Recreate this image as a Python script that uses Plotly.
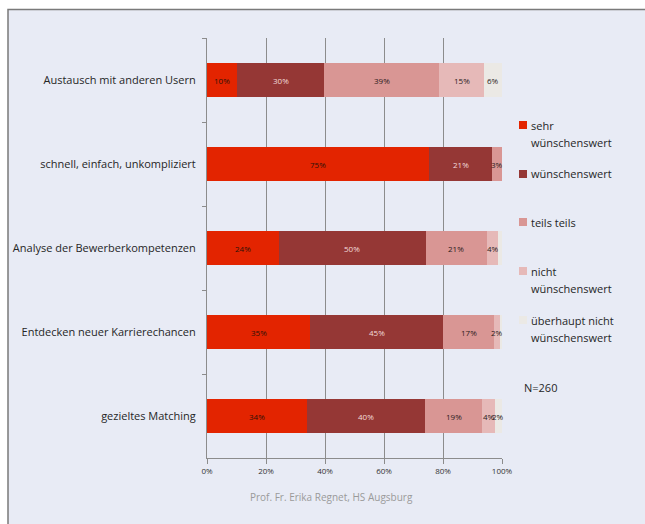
import plotly.graph_objects as go

# Survey items (top to bottom)
categories = [
    "Austausch mit anderen Usern",
    "schnell, einfach, unkompliziert",
    "Analyse der Bewerberkompetenzen",
    "Entdecken neuer Karrierechancen",
    "gezieltes Matching",
]

# Answer categories (stack order left to right)
series_names = [
    "sehr\nwünschenswert",
    "wünschenswert",
    "teils teils",
    "nicht\nwünschenswert",
    "überhaupt nicht\nwünschenswert",
]

# Shares in percent per answer category, one value per item
sehr_wuenschenswert = [10.2, 75.4, 24.3, 35.0, 33.8]
wuenschenswert = [29.6, 21.3, 49.8, 45.0, 40.2]
teils_teils = [39.0, 3.3, 20.8, 17.3, 19.3]
nicht_wuenschenswert = [15.2, 0.0, 3.9, 2.0, 4.3]
ueberhaupt_nicht = [6.0, 0.0, 1.2, 0.7, 2.4]

series_values = [
    sehr_wuenschenswert,
    wuenschenswert,
    teils_teils,
    nicht_wuenschenswert,
    ueberhaupt_nicht,
]

x_ticks = [0, 20, 40, 60, 80, 100]
x_tick_labels = ["0%", "20%", "40%", "60%", "80%", "100%"]
sample_note = "N=260"
source_note = "Prof. Fr. Erika Regnet, HS Augsburg"

colors = ["#E32400", "#953735", "#D99694", "#E6B9B8", "#EBE9E5"]
label_colors = ["#2a1208", "#F2DCDB", "#2a1a1a", "#2a1a1a", "#2a1a1a"]

W, H = 645, 524
ML, MR, MT, MB = 207, 143, 38, 66
PW, PH = W - ML - MR, H - MT - MB
FONT = "Open Sans, Liberation Sans, sans-serif"


def px_to_paper_x(px):
    return (px - ML) / PW


def px_to_paper_y(py):
    return (H - MB - py) / PH


fig = go.Figure()

for name, vals, col in zip(series_names, series_values, colors):
    fig.add_trace(go.Bar(
        y=categories,
        x=vals,
        name=name.replace("\n", " "),
        orientation="h",
        marker=dict(color=col, line=dict(width=0)),
        showlegend=False,
        hoverinfo="x+y+name",
    ))

# Segment value labels centred on each stacked segment
annotations = []
for i, cat in enumerate(categories):
    cum = 0.0
    for s, vals in enumerate(series_values):
        v = vals[i]
        if v >= 1.5:
            annotations.append(dict(
                x=cum + v / 2, y=cat, xref="x", yref="y",
                text=f"{round(v)}%", showarrow=False,
                font=dict(family=FONT, size=8, color=label_colors[s]),
            ))
        cum += v

# Legend drawn as colour squares with (possibly two-line) labels
legend_y = [125, 174, 222, 271, 320]
shapes = []
# Panel frame behind the chart
shapes.append(dict(
    type="rect", xref="paper", yref="paper", layer="below",
    x0=px_to_paper_x(8), x1=px_to_paper_x(W + 20),
    y0=px_to_paper_y(H + 20), y1=px_to_paper_y(9.5),
    fillcolor="#E8EBF5", line=dict(color="#7a7a7a", width=1.5),
))
for name, col, ly in zip(series_names, colors, legend_y):
    shapes.append(dict(
        type="rect", xref="paper", yref="paper",
        x0=px_to_paper_x(519), x1=px_to_paper_x(527),
        y0=px_to_paper_y(ly + 4), y1=px_to_paper_y(ly - 4),
        fillcolor=col, line=dict(width=0),
    ))
    for k, line in enumerate(name.split("\n")):
        annotations.append(dict(
            x=px_to_paper_x(529), y=px_to_paper_y(ly + 17 * k),
            xref="paper", yref="paper", xanchor="left", yanchor="middle",
            text=line, showarrow=False,
            font=dict(family=FONT, size=11, color="#262626"),
        ))

annotations.append(dict(
    x=px_to_paper_x(522), y=px_to_paper_y(387),
    xref="paper", yref="paper", xanchor="left", yanchor="middle",
    text=sample_note, showarrow=False,
    font=dict(family=FONT, size=11, color="#262626"),
))
annotations.append(dict(
    x=px_to_paper_x(331), y=px_to_paper_y(497),
    xref="paper", yref="paper", xanchor="center", yanchor="middle",
    text=source_note, showarrow=False,
    font=dict(family=FONT, size=10, color="#9a9a9a"),
))

fig.update_layout(
    width=W, height=H,
    margin=dict(l=ML, r=MR, t=MT, b=MB, pad=0),
    barmode="stack",
    bargap=0.607,
    paper_bgcolor="white",
    plot_bgcolor="rgba(0,0,0,0)",
    font=dict(family=FONT, color="#262626"),
    shapes=shapes,
    annotations=annotations,
    showlegend=False,
)

fig.update_xaxes(
    range=[0, 100], tickmode="array", tickvals=x_ticks, ticktext=x_tick_labels,
    showgrid=True, gridcolor="#8c8c8c", gridwidth=1,
    showline=True, linecolor="#8c8c8c", linewidth=1,
    ticks="outside", ticklen=5, tickcolor="#8c8c8c",
    tickfont=dict(family=FONT, size=8, color="#333333"),
    zeroline=False, fixedrange=True,
)
fig.update_yaxes(
    categoryorder="array", categoryarray=categories, autorange="reversed",
    tickson="boundaries", ticks="outside", ticklen=4, tickcolor="#8c8c8c",
    showline=True, linecolor="#8c8c8c", linewidth=1,
    showgrid=False, zeroline=False, ticklabelstandoff=8,
    tickfont=dict(family=FONT, size=11, color="#262626"),
    fixedrange=True,
)

fig.write_html("out.html")
